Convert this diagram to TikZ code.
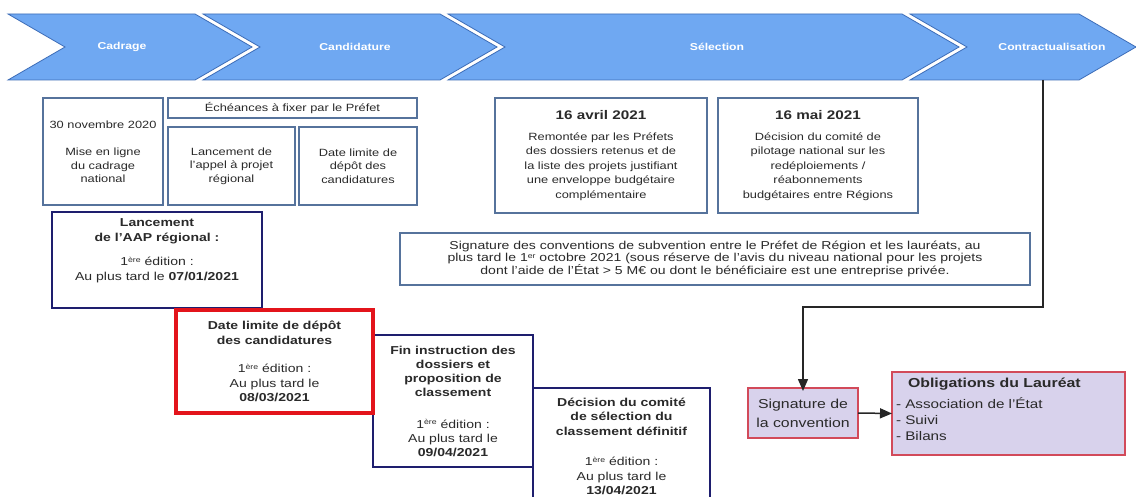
\documentclass[tikz,border=0pt]{standalone}
\usepackage{fontspec}
\setmainfont{Liberation Sans}[FakeStretch=1.22]
\usetikzlibrary{arrows.meta}
\definecolor{chevfill}{HTML}{6FA8F2}
\definecolor{chevline}{HTML}{3D6DB8}
\definecolor{steel}{HTML}{56739C}
\definecolor{navy}{HTML}{1E1E6E}
\definecolor{redb}{HTML}{E3141B}
\definecolor{lav}{HTML}{D8D2EC}
\definecolor{pinkb}{HTML}{D24A5A}
\definecolor{txt}{HTML}{2A2A2A}
\newcommand\supx[1]{\smash{\raisebox{0.55ex}{\scalebox{0.62}{#1}}}}
\begin{document}
\begin{tikzpicture}[x=1pt,y=-1pt,
  every node/.style={outer sep=0pt, inner sep=0pt, text=txt},
  chev/.style={fill=chevfill, draw=chevline, line width=0.8pt, line join=miter},
  clbl/.style={text=white, font=\fontsize{10}{11}\selectfont\bfseries},
  pbox/.style={draw=steel, line width=1.3pt, fill=white},
  sbox/.style={draw=navy, line width=1.3pt, fill=white},
  rbox/.style={draw=redb, line width=4pt},
  lbox/.style={draw=pinkb, line width=1.5pt, fill=lav},
  small/.style={align=center, font=\fontsize{10.5}{13.5}\selectfont},
  mid/.style={align=center, font=\fontsize{10.5}{14.5}\selectfont},
  stair/.style={align=center, font=\fontsize{11.5}{14.5}\selectfont},
  conn/.style={draw=black!85, line width=1.5pt},
  arr/.style={conn, -{Triangle[length=12pt,width=10pt]}}
]
\fill[white] (0,0) rectangle (1136,497);
\useasboundingbox (0,0) rectangle (1136,497);

% chevrons
\draw[chev] (8,14) -- (195,14) -- (252,47) -- (195,80) -- (8,80) -- (65,47) -- cycle;
\draw[chev] (203,14) -- (440,14) -- (497,47) -- (440,80) -- (203,80) -- (260,47) -- cycle;
\draw[chev] (448,14) -- (902,14) -- (959,47) -- (902,80) -- (448,80) -- (505,47) -- cycle;
\draw[chev] (910,14) -- (1079,14) -- (1136,47) -- (1079,80) -- (910,80) -- (967,47) -- cycle;
\node[clbl] (c1) at (122,47) {Cadrage};
\node[clbl] (c2) at (355,47) {Candidature};
\node[clbl] (c3) at (717,47) {Sélection};
\node[clbl] (c4) at (1052,47) {Contractualisation};
\coordinate (c4b) at (1043,80);

% row 2 left
\node[pbox, minimum width=120pt, minimum height=107pt, small] (a1) at (103,151.5)
  {30 novembre 2020\\[14pt]Mise en ligne\\du cadrage\\national};
\node[pbox, minimum width=249pt, minimum height=20pt, small] (a0) at (292.5,108)
  {Échéances à fixer par le Préfet};
\node[pbox, minimum width=127pt, minimum height=78pt, small] (a2) at (231.5,166)
  {Lancement de\\l'appel à projet\\régional};
\node[pbox, minimum width=118pt, minimum height=78pt, small] (a3) at (358,166)
  {Date limite de\\dépôt des\\candidatures};

% row 2 right
\node[pbox, minimum width=212pt, minimum height=115pt, mid] (b1) at (601,155.5)
  {{\fontsize{12.5}{15}\selectfont\bfseries 16 avril 2021}\\[6pt]Remontée par les Préfets\\des dossiers retenus et de\\la liste des projets justifiant\\une enveloppe budgétaire\\complémentaire};
\node[pbox, minimum width=200pt, minimum height=115pt, mid] (b2) at (818,155.5)
  {{\fontsize{12.5}{15}\selectfont\bfseries 16 mai 2021}\\[6pt]Décision du comité de\\pilotage national sur les\\redéploiements /\\réabonnements\\budgétaires entre Régions};

% signature des conventions
\node[pbox, minimum width=630pt, minimum height=52pt, align=center, font=\fontsize{11.5}{12}\selectfont] (cv) at (715,259)
  {Signature des conventions de subvention entre le Préfet de Région et les lauréats, au\\plus tard le 1\supx{er} octobre 2021 (sous réserve de l'avis du niveau national pour les projets\\dont l'aide de l'État > 5 M€ ou dont le bénéficiaire est une entreprise privée.};

% staircase
\node[sbox, minimum width=210pt, minimum height=96pt] (d1) at (157,260) {};
\node[stair, anchor=north] (d1t) at (157,219)
  {\textbf{Lancement}\\\textbf{de l'AAP régional :}\\[10pt]1\supx{ère} édition :\\Au plus tard le \textbf{07/01/2021}};
\node[sbox, minimum width=177pt, minimum height=117pt, stair] (dec) at (621.5,446.5)
  {\textbf{Décision du  comité}\\\textbf{de sélection du}\\\textbf{classement définitif}\\[16pt]1\supx{ère} édition :\\Au plus tard le\\\textbf{13/04/2021}};
\node[sbox, minimum width=160pt, minimum height=132pt, stair, font=\fontsize{11.5}{14}\selectfont] (fin) at (453,401)
  {\textbf{Fin instruction des}\\\textbf{dossiers et}\\\textbf{proposition de}\\\textbf{classement}\\[18pt]1\supx{ère} édition :\\Au plus tard le\\\textbf{09/04/2021}};
\node[rbox, minimum width=197pt, minimum height=103pt, fill=white, stair] (red) at (274.5,361.5)
  {\textbf{Date limite de dépôt}\\\textbf{des candidatures}\\[14pt]1\supx{ère} édition :\\Au plus tard le\\\textbf{08/03/2021}};

% contractualisation
\node[lbox, minimum width=110pt, minimum height=50pt, align=center, font=\fontsize{13}{19}\selectfont] (sig) at (803,413)
  {Signature de\\la convention};
\node[lbox, minimum width=233pt, minimum height=83pt] (obl) at (1008.5,413.5) {};
\node[anchor=north west, align=left, font=\fontsize{12.5}{16}\selectfont] (oblt) at (896,378)
  {\hspace*{12pt}{\fontsize{13}{14}\selectfont\bfseries Obligations du Lauréat}\\[5pt]- Association de l'État\\- Suivi\\- Bilans};

\coordinate (k1) at (1043,307);
\draw[arr] (c4b) -- (k1) -| ([yshift=-3pt]sig.north);
\draw[arr] (sig.east) -- (obl.west);
\end{tikzpicture}
\end{document}
